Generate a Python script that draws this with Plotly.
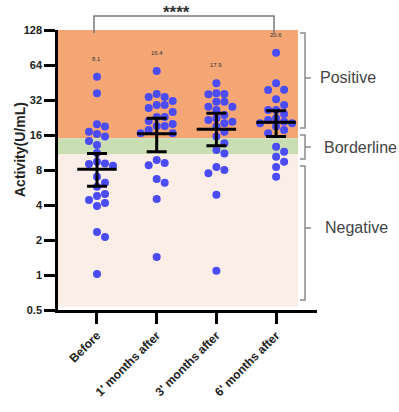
import numpy as np
import plotly.graph_objects as go

# ---------------- data ----------------
categories = ["Before", "1' months after", "3' months after", "6' months after"]

before = [50.8, 36.5, 19.8, 18.9, 17.1, 16.3, 15.5, 14.2, 13.1, 11.2, 9.4, 9.1, 9.0,
          8.7, 7.0, 6.2, 5.75, 4.97, 4.78, 4.42, 4.16, 3.92, 2.34, 2.12, 1.02]
month1 = [56.8, 36.0, 34.0, 34.0, 31.4, 29.0, 29.0, 27.3, 25.2, 22.9, 22.9, 21.1, 19.9,
          19.1, 19.1, 17.7, 16.6, 16.6, 9.75, 9.2, 8.8, 6.7, 6.2, 4.5, 1.43]
month3 = [44.5, 36.5, 35.8, 36.0, 30.9, 30.9, 28.0, 28.0, 26.3, 23.8, 22.3, 21.5, 20.8,
          20.2, 18.9, 17.1, 15.5, 13.6, 11.9, 11.1, 8.5, 8.0, 7.5, 4.9, 1.09]
month6 = [81.6, 44.5, 39.2, 39.0, 32.4, 29.0, 26.3, 26.3, 24.3, 22.3, 21.5, 20.8, 20.2,
          20.2, 18.9, 17.7, 16.6, 12.7, 11.5, 10.4, 9.4, 8.5, 7.0]
groups = [before, month1, month3, month6]

means = [8.1, 16.4, 17.9, 20.6]
upper = [11.1, 22.3, 24.6, 25.9]
lower = [5.8, 11.5, 12.9, 15.5]
mean_labels = ["8.1", "16.4", "17.9", "20.6"]

y_ticks = [0.5, 1, 2, 4, 8, 16, 32, 64, 128]
y_ticktext = ["0.5", "1", "2", "4", "8", "16", "32", "64", "128"]

band_names = ["Positive", "Borderline", "Negative"]
band_low = [15, 11, 0.5]
band_high = [128, 15, 11]
band_colors = ["#F4A674", "#C9DFB3", "#FBEEE6"]

# ---------------- geometry helpers ----------------
W, H = 399, 412
ML, MR, MT, MB = 58, 82, 30, 102
PW, PH = W - ML - MR, H - MT - MB
X_RANGE = [-0.653, 3.685]
PX_PER_CAT = PW / (X_RANGE[1] - X_RANGE[0])
PX_PER_OCT = PH / 8.0


def pxp(px):
    return (px - ML) / PW


def pyp(py):
    return (H - MB - py) / PH


def val_to_paper(v):
    return (np.log2(v) + 1) / 8.0


def swarm(vals, d=8.0):
    vals = np.asarray(vals, float)
    order = np.argsort(-vals, kind="stable")
    placed = []
    offs = np.zeros(len(vals))
    cands = [0, 8, -8, 16, -16, 24, -24, 32, -32, 40, -40]
    for i in order:
        y = PX_PER_OCT * np.log2(vals[i])
        for c in cands:
            if all(np.hypot(px - c, py - y) >= d - 0.5 for px, py in placed):
                placed.append((c, y))
                offs[i] = c / PX_PER_CAT
                break
    return offs


fig = go.Figure()

# points
for gi, vals in enumerate(groups):
    xs = gi + swarm(vals)
    fig.add_trace(go.Scatter(
        x=xs, y=vals, mode="markers",
        marker=dict(color="#4B4BF7", size=8, line=dict(width=0)),
        showlegend=False, hoverinfo="y"))

# mean lines
mx, my = [], []
for gi, m in enumerate(means):
    mx += [gi - 0.33, gi + 0.33, None]
    my += [m, m, None]
fig.add_trace(go.Scatter(x=mx, y=my, mode="lines",
                         line=dict(color="black", width=3),
                         showlegend=False, hoverinfo="skip"))

# error bars
fig.add_trace(go.Scatter(
    x=list(range(len(means))), y=means, mode="markers",
    marker=dict(size=1, opacity=0),
    error_y=dict(type="data", symmetric=False,
                 array=[u - m for u, m in zip(upper, means)],
                 arrayminus=[m - l for m, l in zip(means, lower)],
                 color="black", thickness=3, width=10),
    showlegend=False, hoverinfo="skip"))

shapes = []
# background bands
for lo, hi, col in zip(band_low, band_high, band_colors):
    y0 = val_to_paper(lo)
    if lo == 0.5:
        y0 = pyp(307)
    shapes.append(dict(type="rect", xref="paper", yref="paper",
                       x0=0, x1=pxp(298), y0=y0, y1=val_to_paper(hi),
                       fillcolor=col, line=dict(width=0), layer="below"))

# significance bracket
shapes.append(dict(type="path", xref="paper", yref="paper",
                   path=f"M {pxp(94)},{pyp(33)} L {pxp(94)},{pyp(16)} L {pxp(274)},{pyp(16)} L {pxp(274)},{pyp(33)}",
                   line=dict(color="#7a7a7a", width=1.5)))

# right-side braces
brace_px = [(33, 128, 78), (135, 159, 147), (166, 300, 228)]
for top, bot, mid in brace_px:
    shapes.append(dict(type="path", xref="paper", yref="paper",
                       path=(f"M {pxp(300)},{pyp(top)} L {pxp(305)},{pyp(top)} "
                             f"L {pxp(305)},{pyp(bot)} L {pxp(300)},{pyp(bot)} "
                             f"M {pxp(305)},{pyp(mid)} L {pxp(311)},{pyp(mid)}"),
                       line=dict(color="#8a8a8a", width=1.5)))

annotations = []
label_x = [318, 322, 323]
for name, (top, bot, mid), lx in zip(band_names, brace_px, label_x):
    annotations.append(dict(text=name, xref="paper", yref="paper",
                            x=pxp(lx), y=pyp(mid), xanchor="left", yanchor="middle",
                            showarrow=False,
                            font=dict(family="Liberation Sans", size=16, color="#444")))

# mean labels
for gi, (vals, lab) in enumerate(zip(groups, mean_labels)):
    annotations.append(dict(text=lab, x=gi, y=np.log10(max(vals)), xref="x", yref="y",
                            yshift=18, showarrow=False, yanchor="middle",
                            font=dict(family="Liberation Sans", size=6, color="#333")))

# stars
annotations.append(dict(text="****", xref="paper", yref="paper",
                        x=pxp(176), y=pyp(12), xanchor="center", yanchor="middle",
                        showarrow=False,
                        font=dict(family="Liberation Sans", size=17, color="#333", weight="bold")))

# y title
annotations.append(dict(text="Activity(U/mL)", xref="paper", yref="paper",
                        x=pxp(20), y=pyp(150), textangle=-90,
                        xanchor="center", yanchor="middle", showarrow=False,
                        font=dict(family="Liberation Sans", size=14, color="#222", weight="bold")))

fig.update_layout(
    width=W, height=H, autosize=False,
    margin=dict(l=ML, r=MR, t=MT, b=MB, pad=0),
    paper_bgcolor="white", plot_bgcolor="white",
    shapes=shapes, annotations=annotations,
    xaxis=dict(range=X_RANGE, tickmode="array", tickvals=list(range(4)),
               ticktext=categories, tickangle=-45,
               showline=True, linecolor="black", linewidth=2.5,
               ticks="outside", ticklen=11, tickwidth=2.5, tickcolor="black",
               showgrid=False, zeroline=False,
               tickfont=dict(family="Liberation Sans", size=12, color="#222", weight="bold")),
    yaxis=dict(type="log", range=[np.log10(0.5), np.log10(128)],
               tickmode="array", tickvals=y_ticks, ticktext=y_ticktext,
               showline=True, linecolor="black", linewidth=2.5,
               ticks="outside", ticklen=11, tickwidth=2.5, tickcolor="black",
               showgrid=False, zeroline=False,
               tickfont=dict(family="Liberation Sans", size=11, color="#222", weight="bold")),
)

fig.write_html("out.html")
